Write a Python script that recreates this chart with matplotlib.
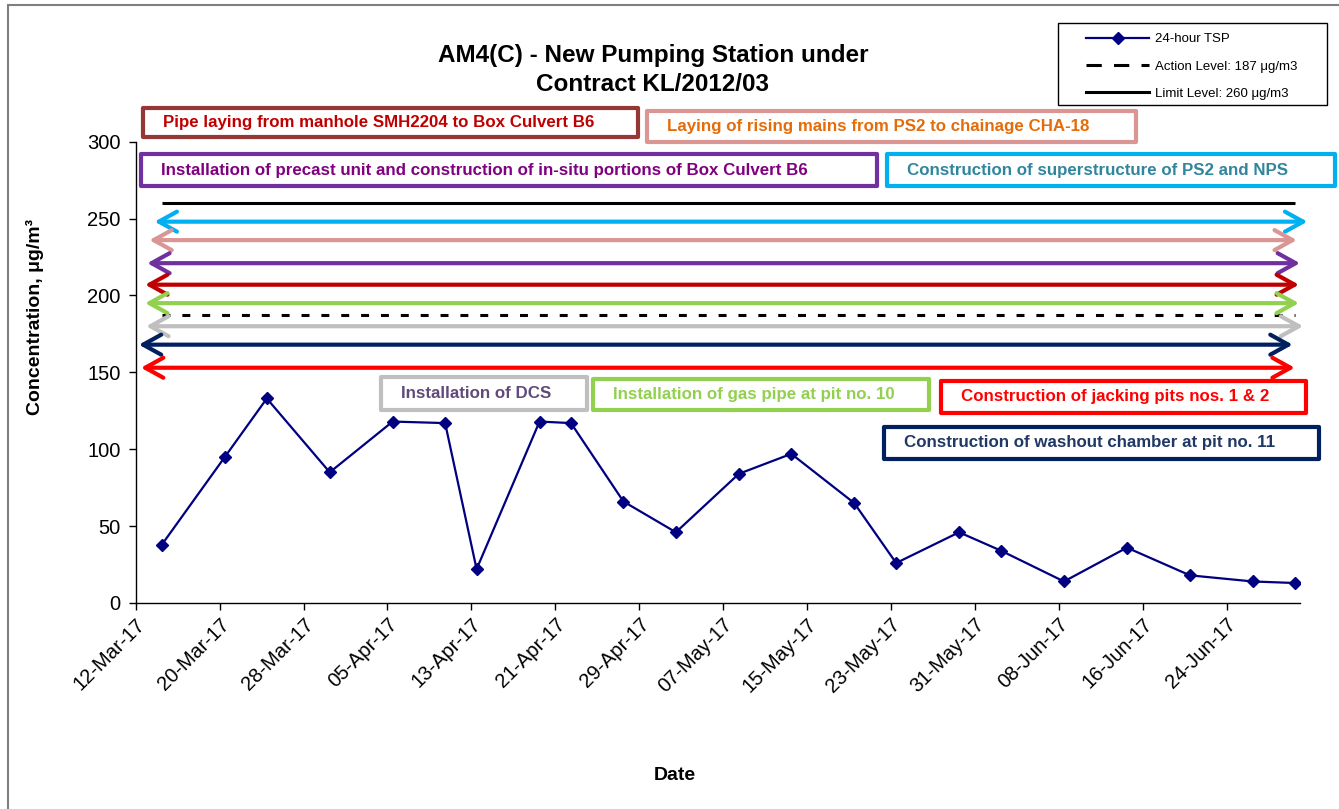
import numpy as np
import pandas as pd
import matplotlib
matplotlib.use("Agg")
import matplotlib.pyplot as plt
import matplotlib.dates as mdates
from matplotlib.patches import Rectangle
from matplotlib.lines import Line2D

plt.rcParams['font.family'] = ['Liberation Sans', 'DejaVu Sans']

# 24-hour TSP results
sample_dates = ["2017-03-14", "2017-03-20", "2017-03-24", "2017-03-30", "2017-04-05",
                "2017-04-10", "2017-04-13", "2017-04-19", "2017-04-22", "2017-04-27",
                "2017-05-02", "2017-05-08", "2017-05-13", "2017-05-19", "2017-05-23",
                "2017-05-29", "2017-06-02", "2017-06-08", "2017-06-14", "2017-06-20",
                "2017-06-26", "2017-06-30"]
tsp = [38, 95, 133, 85, 118, 117, 22, 118, 117, 66, 46, 84, 97, 65, 26, 46, 34, 14, 36, 18, 14, 13]

action_level = 187
limit_level = 260

# construction activities (arrow level, start / end in days after 12-Mar-17)
act_labels = ["Construction of superstructure of PS2 and NPS",
              "Laying of rising mains from PS2 to chainage CHA-18",
              "Installation of precast unit and construction of in-situ portions of Box Culvert B6",
              "Pipe laying from manhole SMH2204 to Box Culvert B6",
              "Installation of gas pipe at pit no. 10",
              "Installation of DCS",
              "Construction of washout chamber at pit no. 11",
              "Construction of jacking pits nos. 1 & 2"]
act_levels = [248, 236, 221, 207, 195, 180, 168, 153]
act_start = [1.8, 1.3, 1.1, 0.9, 0.9, 1.0, 0.3, 0.5]
act_end = [111.7, 110.7, 111.0, 110.9, 110.9, 111.3, 110.3, 110.5]
arrow_colors = ["#00B0F0", "#DA9694", "#7030A0", "#C00000", "#92D050", "#BFBFBF", "#002060", "#FF0000"]
border_colors = ["#00B0F0", "#DA9694", "#7030A0", "#953735", "#92D050", "#BFBFBF", "#002060", "#FF0000"]
text_colors = ["#31859C", "#E46C0A", "#800080", "#C00000", "#92D050", "#604A7B", "#1F3864", "#FF0000"]
# label boxes in pixels: left, top, right, bottom
boxes = [(887, 154, 1335, 186), (647, 111, 1136, 142), (141, 154, 877, 186), (143, 108, 638, 137),
         (593, 379, 929, 410), (381, 377, 587, 410), (884, 427, 1319, 459), (941, 381, 1306, 413)]

W, H = 1339, 809
fig = plt.figure(figsize=(W / 100, H / 100), dpi=100)
ax = fig.add_axes([135.7 / W, 1 - 603 / H, (1300 - 135.7) / W, (603 - 141.7) / H])

t0 = pd.Timestamp("2017-03-12")
x = pd.to_datetime(sample_dates) + pd.Timedelta(hours=12)

ax.plot([x[0], x[-1]], [limit_level] * 2, color='black', lw=2.2, solid_capstyle='butt')
ax.plot([x[0], x[-1]], [action_level] * 2, color='black', lw=2.2, dashes=(2.6, 3.9))

for lvl, s, e, c in zip(act_levels, act_start, act_end, arrow_colors):
    ax.annotate('', xy=(t0 + pd.Timedelta(days=e), lvl), xytext=(t0 + pd.Timedelta(days=s), lvl),
                arrowprops=dict(arrowstyle='<->,head_length=1.3,head_width=0.72', color=c, lw=3,
                                shrinkA=0, shrinkB=0, mutation_scale=10),
                annotation_clip=False)

ax.plot(x, tsp, color='#000080', lw=1.6, marker='D', ms=6.5)

ax.set_xlim(t0, pd.Timestamp("2017-07-01"))
ax.set_ylim(0, 300)
ax.set_yticks(np.arange(0, 301, 50))
ax.set_xticks(pd.date_range("2017-03-12", "2017-06-24", freq="8D"))
ax.xaxis.set_major_formatter(mdates.DateFormatter("%d-%b-%y"))
ax.tick_params(axis='both', direction='out', length=5, width=1, labelsize=14.5, colors='black')
ax.tick_params(axis='y', pad=6)
plt.setp(ax.get_xticklabels(), rotation=45, ha='right', rotation_mode='anchor')
for side in ['top', 'right']:
    ax.spines[side].set_visible(False)
for side in ['left', 'bottom']:
    ax.spines[side].set_linewidth(1)

# label boxes
for (l, t, r, b), lab, bc, tc in zip(boxes, act_labels, border_colors, text_colors):
    fig.add_artist(Rectangle((l / W, 1 - b / H), (r - l) / W, (b - t) / H, transform=fig.transFigure,
                             fill=False, edgecolor=bc, lw=3, joinstyle='round'))
    fig.text((l + 20) / W, 1 - (t + b) / 2 / H, lab, color=tc, fontsize=12.2, fontweight='bold',
             ha='left', va='center')

fig.text(653 / W, 1 - 70 / H, "AM4(C) - New Pumping Station under\nContract KL/2012/03",
         ha='center', va='center', fontsize=17.5, fontweight='bold', linespacing=1.3)
fig.text(675 / W, 1 - 776 / H, "Date", ha='center', va='center', fontsize=14, fontweight='bold')
fig.text(35 / W, 1 - 317 / H, "Concentration, μg/m³", ha='center', va='center', rotation=90,
         fontsize=14, fontweight='bold')

# legend with its own frame
handles = [Line2D([], [], color='#000080', lw=1.6, marker='D', ms=6.5),
           Line2D([], [], color='black', lw=2.2, dashes=(5, 4)),
           Line2D([], [], color='black', lw=2.2)]
fig.legend(handles, ["24-hour TSP", "Action Level: 187 μg/m3", "Limit Level: 260 μg/m3"],
           loc='upper left', bbox_to_anchor=(1086 / W, 1 - 33 / H), fontsize=9.5,
           handlelength=4.8, labelspacing=1.15, handletextpad=0.4, borderpad=0,
           borderaxespad=0, frameon=False, numpoints=1)
fig.add_artist(Rectangle((1058 / W, 1 - 105 / H), (1327 - 1058) / W, (105 - 23) / H,
                         transform=fig.transFigure, fill=False, edgecolor='black', lw=1))

# outer chart frame
fig.add_artist(Rectangle((8 / W, -0.1), 1.2, 1 - 5 / H + 0.1, transform=fig.transFigure,
                         fill=False, edgecolor='#7F7F7F', lw=1.5))

fig.savefig("out.png", dpi=100)
